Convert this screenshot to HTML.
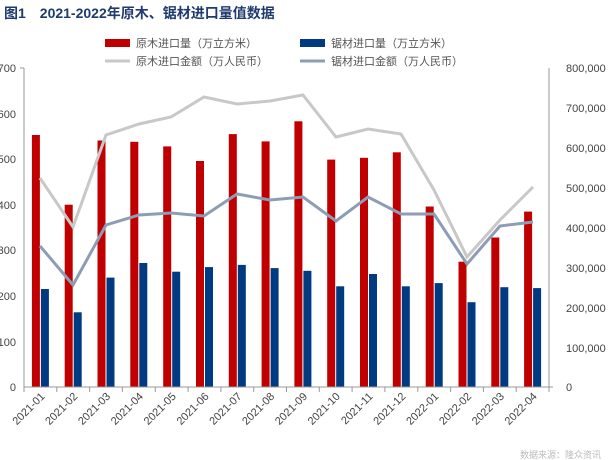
<!DOCTYPE html><html><head><meta charset="utf-8"><style>body{margin:0;background:#fff}svg{display:block}text{font-family:"Liberation Sans","Noto Sans CJK SC",sans-serif}</style></head><body>
<svg width="616" height="460" viewBox="0 0 616 460">
<text x="4" y="18" font-size="14" font-weight="bold" fill="#1f3a6e">图1　2021-2022年原木、锯材进口量值数据</text>
<rect x="105" y="39" width="25" height="8" fill="#c00000"/><text x="136" y="47" font-size="11" fill="#555">原木进口量（万立方米）</text>
<rect x="300" y="39" width="25" height="8" fill="#003a80"/><text x="331" y="47" font-size="11" fill="#555">锯材进口量（万立方米）</text>
<line x1="105" y1="61" x2="130" y2="61" stroke="#c8c8c8" stroke-width="3"/><text x="136" y="65" font-size="11" fill="#555">原木进口金额（万人民币）</text>
<line x1="300" y1="61" x2="325" y2="61" stroke="#8c9db5" stroke-width="3"/><text x="331" y="65" font-size="11" fill="#555">锯材进口金额（万人民币）</text>
<g font-size="11" fill="#444" text-anchor="end">
<text x="16" y="72">700</text><text x="16" y="118">600</text><text x="16" y="163">500</text><text x="16" y="209">400</text><text x="16" y="254">300</text><text x="16" y="300">200</text><text x="16" y="346">100</text><text x="16" y="391">0</text>
</g>
<g font-size="11" fill="#444">
<text x="566" y="72">800,000</text><text x="566" y="112">700,000</text><text x="566" y="152">600,000</text><text x="566" y="192">500,000</text><text x="566" y="232">400,000</text><text x="566" y="272">300,000</text><text x="566" y="312">200,000</text><text x="566" y="352">100,000</text><text x="566" y="391">0</text>
</g>
<g fill="#c00000">
<rect x="31.9" y="135.0" width="8" height="252.0"/>
<rect x="64.7" y="204.7" width="8" height="182.3"/>
<rect x="97.5" y="140.5" width="8" height="246.5"/>
<rect x="130.3" y="141.8" width="8" height="245.2"/>
<rect x="163.2" y="146.4" width="8" height="240.6"/>
<rect x="196.0" y="161.0" width="8" height="226.0"/>
<rect x="228.8" y="134.1" width="8" height="252.9"/>
<rect x="261.6" y="141.4" width="8" height="245.6"/>
<rect x="294.4" y="121.3" width="8" height="265.7"/>
<rect x="327.2" y="159.6" width="8" height="227.4"/>
<rect x="360.0" y="157.8" width="8" height="229.2"/>
<rect x="392.8" y="152.3" width="8" height="234.7"/>
<rect x="425.7" y="206.5" width="8" height="180.5"/>
<rect x="458.5" y="261.7" width="8" height="125.3"/>
<rect x="491.3" y="237.5" width="8" height="149.5"/>
<rect x="524.1" y="211.6" width="8" height="175.4"/>
</g>
<g fill="#003a80">
<rect x="40.9" y="289.0" width="8" height="98.0"/>
<rect x="73.7" y="312.3" width="8" height="74.7"/>
<rect x="106.5" y="277.6" width="8" height="109.4"/>
<rect x="139.3" y="263.0" width="8" height="124.0"/>
<rect x="172.2" y="271.7" width="8" height="115.3"/>
<rect x="205.0" y="267.1" width="8" height="119.9"/>
<rect x="237.8" y="264.9" width="8" height="122.1"/>
<rect x="270.6" y="268.1" width="8" height="118.9"/>
<rect x="303.4" y="270.8" width="8" height="116.2"/>
<rect x="336.2" y="286.3" width="8" height="100.7"/>
<rect x="369.0" y="274.0" width="8" height="113.0"/>
<rect x="401.8" y="286.3" width="8" height="100.7"/>
<rect x="434.7" y="283.1" width="8" height="103.9"/>
<rect x="467.5" y="302.2" width="8" height="84.8"/>
<rect x="500.3" y="287.2" width="8" height="99.8"/>
<rect x="533.1" y="288.1" width="8" height="98.9"/>
</g>
<g stroke="#999" stroke-width="1">
<line x1="24" y1="68" x2="24" y2="387"/><line x1="20" y1="68" x2="24" y2="68"/>
<line x1="549" y1="68" x2="549" y2="387"/>
<line x1="24" y1="387" x2="553" y2="387"/>
<line x1="24" y1="387" x2="24" y2="392"/><line x1="56.8" y1="387" x2="56.8" y2="392"/><line x1="89.6" y1="387" x2="89.6" y2="392"/><line x1="122.4" y1="387" x2="122.4" y2="392"/><line x1="155.3" y1="387" x2="155.3" y2="392"/><line x1="188.1" y1="387" x2="188.1" y2="392"/><line x1="220.9" y1="387" x2="220.9" y2="392"/><line x1="253.7" y1="387" x2="253.7" y2="392"/><line x1="286.5" y1="387" x2="286.5" y2="392"/><line x1="319.3" y1="387" x2="319.3" y2="392"/><line x1="352.1" y1="387" x2="352.1" y2="392"/><line x1="384.9" y1="387" x2="384.9" y2="392"/><line x1="417.8" y1="387" x2="417.8" y2="392"/><line x1="450.6" y1="387" x2="450.6" y2="392"/><line x1="483.4" y1="387" x2="483.4" y2="392"/><line x1="516.2" y1="387" x2="516.2" y2="392"/><line x1="549" y1="387" x2="549" y2="392"/>
</g>
<polyline fill="none" stroke="#c8c8c8" stroke-width="3" points="40,178 73,227 106,135 139,124 171,117 204,97 237,104 270,101 303,95 336,137 368,129 401,134 434,190 467,257 500,220 533,187"/>
<polyline fill="none" stroke="#8c9db5" stroke-width="3" points="40,246 73,285 106,225 139,215 171,213 204,216 237,194 270,200 303,197 336,221 368,197 401,214 434,214 467,264 500,226 533,222"/>
<g font-size="11" fill="#444" text-anchor="end">
<text transform="translate(45.4,397) rotate(-45)">2021-01</text>
<text transform="translate(78.2,397) rotate(-45)">2021-02</text>
<text transform="translate(111.0,397) rotate(-45)">2021-03</text>
<text transform="translate(143.8,397) rotate(-45)">2021-04</text>
<text transform="translate(176.7,397) rotate(-45)">2021-05</text>
<text transform="translate(209.5,397) rotate(-45)">2021-06</text>
<text transform="translate(242.3,397) rotate(-45)">2021-07</text>
<text transform="translate(275.1,397) rotate(-45)">2021-08</text>
<text transform="translate(307.9,397) rotate(-45)">2021-09</text>
<text transform="translate(340.7,397) rotate(-45)">2021-10</text>
<text transform="translate(373.5,397) rotate(-45)">2021-11</text>
<text transform="translate(406.3,397) rotate(-45)">2021-12</text>
<text transform="translate(439.2,397) rotate(-45)">2022-01</text>
<text transform="translate(472.0,397) rotate(-45)">2022-02</text>
<text transform="translate(504.8,397) rotate(-45)">2022-03</text>
<text transform="translate(537.6,397) rotate(-45)">2022-04</text>
</g>
<text x="520" y="458" font-size="9" fill="#bbb">数据来源：隆众资讯</text>
</svg></body></html>
